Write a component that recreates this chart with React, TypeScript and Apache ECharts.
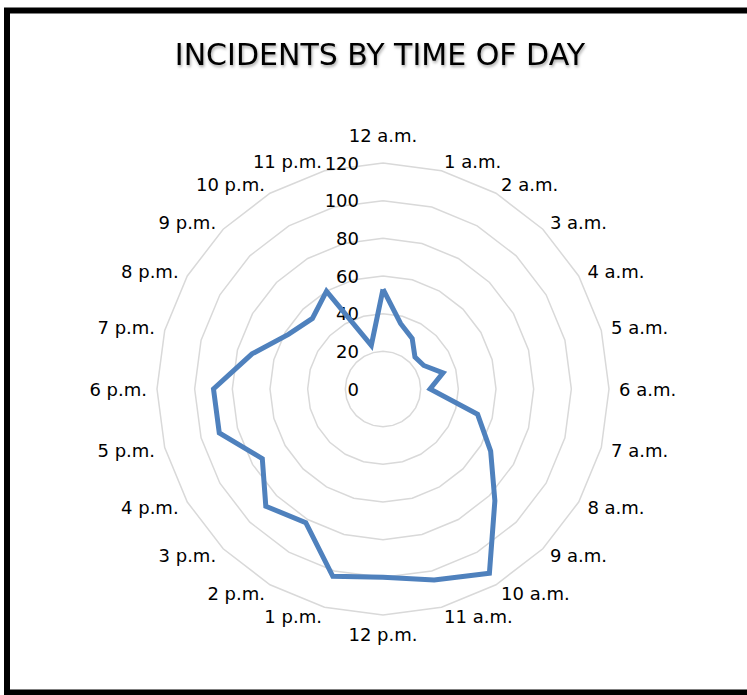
import React, { useEffect, useRef } from "react";
import * as echarts from "echarts";

const hours: string[] = [
  "12 a.m.", "1 a.m.", "2 a.m.", "3 a.m.", "4 a.m.", "5 a.m.",
  "6 a.m.", "7 a.m.", "8 a.m.", "9 a.m.", "10 a.m.", "11 a.m.",
  "12 p.m.", "1 p.m.", "2 p.m.", "3 p.m.", "4 p.m.", "5 p.m.",
  "6 p.m.", "7 p.m.", "8 p.m.", "9 p.m.", "10 p.m.", "11 p.m.",
];

const incidents: number[] = [
  53, 36, 31, 24, 25, 33,
  25, 52, 66, 84, 113, 105,
  100, 103, 82, 88, 74, 90,
  90, 72, 58, 53, 60, 24,
];

const axisMin = 0;
const axisMax = 120;
const axisSplits = 6;

const titleText = "INCIDENTS BY TIME OF DAY";

const FONT = "'DejaVu Sans', 'Open Sans', sans-serif";

export default function App() {
  const ref = useRef<HTMLDivElement>(null);

  useEffect(() => {
    if (!ref.current) return;
    const chart = echarts.init(ref.current, undefined, { renderer: "svg" });

    // ECharts lays radar indicators counter-clockwise; reorder so the hours run clockwise.
    const order = hours.map((_, i) => (i === 0 ? 0 : hours.length - i));
    const indicators = order.map((idx, k) => {
      const ind: any = { name: hours[idx], min: axisMin, max: axisMax };
      if (k === 0) ind.axisLabel = { show: true };
      return ind;
    });
    const values = order.map((idx) => incidents[idx]);

    chart.setOption({
      animation: false,
      backgroundColor: "#ffffff",
      graphic: [
        {
          type: "rect",
          shape: { x: 7, y: 10.5, width: 800, height: 682 },
          style: { fill: "none", stroke: "#000000", lineWidth: 6 },
          silent: true,
        },
        {
          type: "text",
          x: 380,
          y: 54,
          style: {
            text: titleText,
            fill: "#000000",
            font: `30px ${FONT}`,
            textAlign: "center",
            textVerticalAlign: "middle",
            textShadowColor: "rgba(0,0,0,0.35)",
            textShadowBlur: 3,
            textShadowOffsetX: 1,
            textShadowOffsetY: 2,
          },
          silent: true,
        },
      ],
      radar: {
        center: [383, 389],
        radius: 226,
        startAngle: 90,
        shape: "polygon",
        splitNumber: axisSplits,
        indicator: indicators,
        axisName: {
          color: "#000000",
          fontSize: 18,
          fontFamily: FONT,
          formatter: (name: string) =>
            name === hours[0] ? `{top|${name}}` : name,
          rich: {
            top: {
              color: "#000000",
              fontSize: 18,
              fontFamily: FONT,
              padding: [0, 0, 9, 0],
            },
          },
        },
        axisNameGap: 10,
        axisLine: { show: false },
        axisTick: { show: false },
        axisLabel: {
          show: false,
          color: "#000000",
          fontSize: 18,
          fontFamily: FONT,
          margin: 24,
        },
        splitLine: { lineStyle: { color: "#d9d9d9", width: 1.5 } },
        splitArea: { show: false },
      },
      series: [
        {
          type: "radar",
          symbol: "none",
          lineStyle: { color: "#4f81bd", width: 5, join: "miter" },
          data: [{ value: values, name: "Incidents" }],
        },
      ],
    });

    return () => chart.dispose();
  }, []);

  return (
    <div
      ref={ref}
      style={{ position: "fixed", left: 0, top: 0, width: 747, height: 695 }}
    />
  );
}
